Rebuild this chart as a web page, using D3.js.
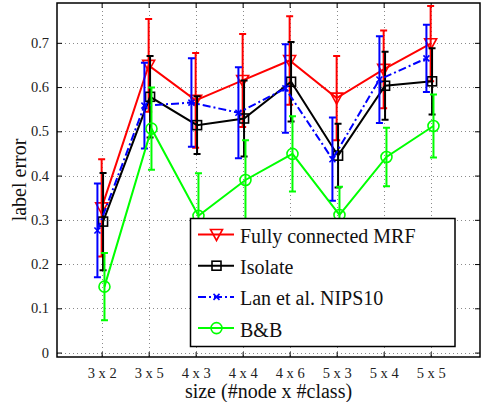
<!DOCTYPE html>
<html>
<head>
<meta charset="utf-8">
<script src="https://cdn.jsdelivr.net/npm/d3@7"></script>
<style>
  body { margin: 0; background: #fff; }
</style>
</head>
<body>
<svg id="chart" width="481" height="402"></svg>
<script>
// data
var sizes = ['3 x 2', '3 x 5', '4 x 3', '4 x 4', '4 x 6', '5 x 3', '5 x 4', '5 x 5']
var yTicks = [0, 0.1, 0.2, 0.3, 0.4, 0.5, 0.6, 0.7]

var mrfMean = [0.327, 0.649, 0.570, 0.615, 0.660, 0.575, 0.640, 0.698]
var mrfErr  = [0.110, 0.105, 0.107, 0.105, 0.100, 0.095, 0.088, 0.085]
var isoMean = [0.296, 0.578, 0.514, 0.529, 0.612, 0.445, 0.603, 0.613]
var isoErr  = [0.110, 0.092, 0.065, 0.086, 0.090, 0.072, 0.077, 0.075]
var lanMean = [0.276, 0.558, 0.565, 0.542, 0.597, 0.437, 0.617, 0.665]
var lanErr  = [0.106, 0.097, 0.100, 0.103, 0.100, 0.094, 0.098, 0.076]
var bbMean  = [0.149, 0.506, 0.309, 0.390, 0.449, 0.311, 0.442, 0.512]
var bbErr   = [0.076, 0.093, 0.096, 0.090, 0.085, 0.064, 0.066, 0.071]

var series = [
  {name: 'Fully connected MRF', mean: mrfMean, err: mrfErr, color: '#ff0000', marker: 'tri', dash: null, off: 0},
  {name: 'Isolate', mean: isoMean, err: isoErr, color: '#000000', marker: 'square', dash: null, off: 0.03},
  {name: 'Lan et al. NIPS10', mean: lanMean, err: lanErr, color: '#0000ff', marker: 'x', dash: '8,3,2,3', off: -0.09},
  {name: 'B&B', mean: bbMean, err: bbErr, color: '#00ff00', marker: 'circle', dash: null, off: 0.06}
]

var serif = '"Liberation Serif", "DejaVu Serif", serif'
var L = 57, R = 480, T = 3, B = 357
var svg = d3.select('#chart')

var x = d3.scaleLinear().domain([0.05, 9.05]).range([L, R])
var y = d3.scaleLinear().domain([-0.01, 0.79]).range([B, T])

// grid
var grid = svg.append('g').attr('stroke', '#8a8a8a').attr('stroke-width', 1).attr('stroke-dasharray', '1,3')
grid.selectAll('.gy').data(yTicks).enter().append('line')
  .attr('x1', L).attr('x2', R)
  .attr('y1', function(d){return Math.round(y(d)) + 0.5})
  .attr('y2', function(d){return Math.round(y(d)) + 0.5})
grid.selectAll('.gx').data(sizes).enter().append('line')
  .attr('y1', T).attr('y2', B)
  .attr('x1', function(d, i){return Math.round(x(i + 1)) + 0.5})
  .attr('x2', function(d, i){return Math.round(x(i + 1)) + 0.5})

// axes
var yAxis = d3.axisLeft(y).tickValues(yTicks).tickSize(-5).tickPadding(8).tickFormat(function(d){return d === 0 ? '0' : d3.format('.1f')(d)})
svg.append('g').attr('transform', 'translate(' + L + ',0)').call(yAxis)
var xAxis = d3.axisBottom(x).tickValues(d3.range(1, 9)).tickSize(-5).tickPadding(11).tickFormat(function(d){return sizes[d - 1]})
svg.append('g').attr('transform', 'translate(0,' + B + ')').call(xAxis)
// mirrored ticks on top and right
svg.append('g').attr('transform', 'translate(' + R + ',0)')
  .call(d3.axisRight(y).tickValues(yTicks).tickSize(-5).tickFormat(''))
svg.append('g').attr('transform', 'translate(0,' + T + ')')
  .call(d3.axisTop(x).tickValues(d3.range(1, 9)).tickSize(-5).tickFormat(''))
svg.selectAll('.domain').remove()
svg.selectAll('.tick line').attr('stroke', '#000')
svg.selectAll('.tick text').attr('font-size', '14.5px').attr('font-family', null).style('font-family', serif).attr('fill', '#222')

svg.append('rect').attr('x', L).attr('y', T).attr('width', R - L).attr('height', B - T)
  .attr('fill', 'none').attr('stroke', '#000').attr('stroke-width', 1.5)

// markers
function drawMarker(g, kind, cx, cy, color) {
  if (kind === 'tri') {
    g.append('path').attr('d', 'M' + (cx - 6) + ',' + (cy - 5) + 'L' + (cx + 6) + ',' + (cy - 5) + 'L' + cx + ',' + (cy + 6) + 'Z')
      .attr('fill', 'none').attr('stroke', color).attr('stroke-width', 1.6)
  } else if (kind === 'square') {
    g.append('rect').attr('x', cx - 4.5).attr('y', cy - 4.5).attr('width', 9).attr('height', 9)
      .attr('fill', 'none').attr('stroke', color).attr('stroke-width', 1.6)
  } else if (kind === 'x') {
    g.append('path').attr('d', 'M' + (cx - 3) + ',' + (cy - 3) + 'L' + (cx + 3) + ',' + (cy + 3) + 'M' + (cx - 3) + ',' + (cy + 3) + 'L' + (cx + 3) + ',' + (cy - 3))
      .attr('stroke', color).attr('stroke-width', 1.6)
  } else {
    g.append('circle').attr('cx', cx).attr('cy', cy).attr('r', 5.5)
      .attr('fill', 'none').attr('stroke', color).attr('stroke-width', 1.6)
  }
}

var line = d3.line()
series.forEach(function(s) {
  var g = svg.append('g')
  var pts = s.mean.map(function(m, i){return [x(i + 1 + s.off), y(m)]})
  g.append('path').attr('d', line(pts)).attr('fill', 'none').attr('stroke', s.color)
    .attr('stroke-width', 2).attr('stroke-dasharray', s.dash)
  s.mean.forEach(function(m, i) {
    var cx = x(i + 1 + s.off)
    var y0 = y(m - s.err[i]), y1 = y(m + s.err[i])
    g.append('path')
      .attr('d', 'M' + cx + ',' + y0 + 'V' + y1 + 'M' + (cx - 3.5) + ',' + y0 + 'H' + (cx + 3.5) + 'M' + (cx - 3.5) + ',' + y1 + 'H' + (cx + 3.5))
      .attr('stroke', s.color).attr('stroke-width', 2).attr('fill', 'none')
    drawMarker(g, s.marker, cx, y(m), s.color)
  })
})

// legend
var lg = svg.append('g')
lg.append('rect').attr('x', 190.5).attr('y', 218.5).attr('width', 264.5).attr('height', 128)
  .attr('fill', '#fff').attr('stroke', '#000').attr('stroke-width', 1.5)
series.forEach(function(s, i) {
  var ly = 234.5 + i * 31.2
  lg.append('line').attr('x1', 198).attr('x2', 234).attr('y1', ly).attr('y2', ly)
    .attr('stroke', s.color).attr('stroke-width', 2).attr('stroke-dasharray', s.dash)
  drawMarker(lg, s.marker, 216.5, ly, s.color)
  lg.append('text').attr('x', 240).attr('y', ly + 8.5).style('font-family', serif)
    .attr('font-size', '20px').attr('fill', '#111').text(s.name)
})

// titles
svg.append('text').attr('x', (L + R) / 2).attr('y', 398).attr('text-anchor', 'middle').style('font-family', serif)
  .attr('font-size', '20px').attr('fill', '#111').text('size (#node x #class)')
svg.append('text').attr('transform', 'translate(26,180) rotate(-90)').attr('text-anchor', 'middle').style('font-family', serif)
  .attr('font-size', '20px').attr('fill', '#111').text('label error')
</script>
</body>
</html>
